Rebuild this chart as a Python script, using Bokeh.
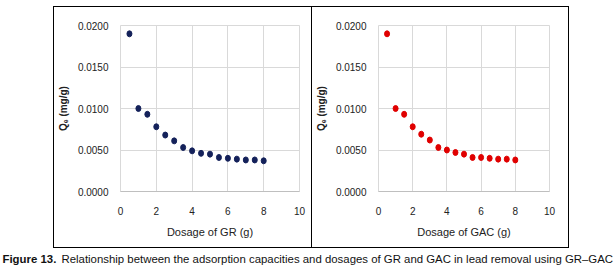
from bokeh.plotting import figure
from bokeh.layouts import column, row
from bokeh.models import FixedTicker, NumeralTickFormatter, Range1d, Label, Spacer
from bokeh.embed import file_html
from bokeh.resources import INLINE

dosage = [0.5, 1.0, 1.5, 2.0, 2.5, 3.0, 3.5, 4.0, 4.5, 5.0, 5.5, 6.0, 6.5, 7.0, 7.5, 8.0]
qe_gr = [0.0190, 0.0100, 0.0093, 0.0078, 0.0068, 0.0061, 0.0053, 0.0049,
         0.0046, 0.0045, 0.0041, 0.0040, 0.0039, 0.0038, 0.0038, 0.0037]
qe_gac = [0.0190, 0.0100, 0.0093, 0.0078, 0.0069, 0.0062, 0.0053, 0.0050,
          0.0047, 0.0045, 0.0041, 0.0041, 0.0040, 0.0039, 0.0039, 0.0038]
x_ticks = [0, 2, 4, 6, 8, 10]
y_ticks = [0.0, 0.005, 0.010, 0.015, 0.020]
x_titles = ["Dosage of GR (g)", "Dosage of GAC (g)"]
y_title = "Q\u2091 (mg/g)"
caption_bold = "Figure 13."
caption_rest = "Relationship between the adsorption capacities and dosages of GR and GAC in lead removal using GR\u2013GAC"

FONT = "Liberation Sans"
CAP_FONT = "Liberation Sans"


def panel(xs, ys, color, xlabel, w, h, bl, br, bt, bb, styles):
    p = figure(width=w, height=h, output_backend="svg", toolbar_location=None,
               x_range=Range1d(0, 10), y_range=Range1d(0, 0.02),
               min_border_left=bl, min_border_right=br, min_border_top=bt,
               min_border_bottom=bb, styles=styles)
    p.ellipse(xs, ys, width=5, height=6, width_units="screen", height_units="screen",
              fill_color=color, line_color=color)
    p.xaxis.ticker = FixedTicker(ticks=x_ticks)
    p.yaxis.ticker = FixedTicker(ticks=y_ticks)
    p.yaxis.formatter = NumeralTickFormatter(format="0.0000")
    for ax in (p.xaxis[0], p.yaxis[0]):
        ax.major_tick_line_color = None
        ax.minor_tick_line_color = None
        ax.major_label_text_font = FONT
        ax.major_label_text_font_size = "10px"
        ax.major_label_text_color = "#222222"
        ax.axis_label_text_font = FONT
        ax.axis_label_text_color = "#222222"
    p.yaxis.axis_line_color = None
    p.xaxis.axis_line_color = "#BFBFBF"
    p.xaxis.major_label_standoff = 9
    p.yaxis.major_label_standoff = 6
    p.xaxis.axis_label = xlabel
    p.xaxis.axis_label_text_font_size = "11px"
    p.xaxis.axis_label_text_font_style = "normal"
    p.xaxis.axis_label_standoff = 8
    p.yaxis.axis_label = y_title
    p.yaxis.axis_label_text_font_size = "10px"
    p.yaxis.axis_label_text_font_style = "bold"
    p.yaxis.axis_label_standoff = 6
    p.grid.grid_line_color = "#D9D9D9"
    p.grid.grid_line_width = 1
    p.outline_line_color = "#D9D9D9"
    return p


p1 = panel(dosage, qe_gr, "#14215A", x_titles[0], 259, 242, 63, 14, 18, 57,
           {"border-left": "1px solid black", "border-top": "1px solid black",
            "border-bottom": "1px solid black", "border-right": "1px solid black",
            "box-sizing": "border-box"})
p2 = panel(dosage, qe_gac, "#E00000", x_titles[1], 257, 242, 62, 20, 17, 58,
           {"border-top": "1px solid black", "border-bottom": "1px solid black",
            "border-right": "1px solid black", "box-sizing": "border-box"})

cap = figure(width=613, height=20, output_backend="svg", toolbar_location=None,
             x_range=Range1d(0, 1), y_range=Range1d(0, 1),
             min_border=0, outline_line_color=None)
cap.axis.visible = False
cap.grid.visible = False
cap.add_layout(Label(x=2, y=4, x_units="screen", y_units="screen", text=caption_bold,
                     text_font=CAP_FONT, text_font_style="bold", text_font_size="11.4px",
                     text_color="#111111"))
cap.add_layout(Label(x=61, y=4, x_units="screen", y_units="screen", text=caption_rest,
                     text_font=CAP_FONT, text_font_size="11.4px", text_color="#111111"))

layout = column(Spacer(height=6), row(Spacer(width=53), p1, p2), cap, spacing=0)
open("out.html", "w").write(file_html(layout, INLINE))
